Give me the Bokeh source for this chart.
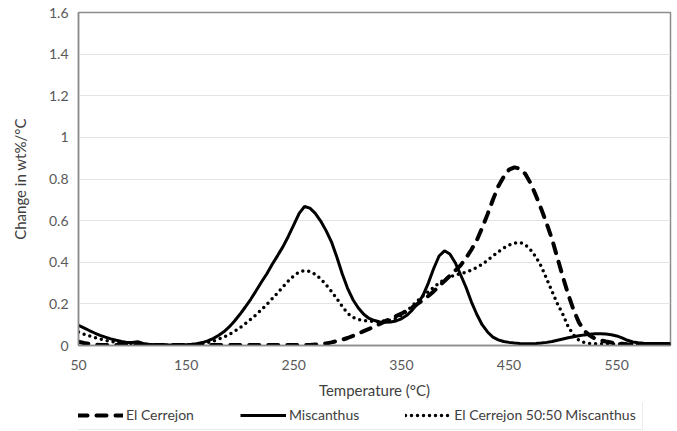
from bokeh.plotting import figure
from bokeh.layouts import column
from bokeh.models import FixedTicker, Legend, LegendItem, Range1d
from bokeh.embed import file_html
from bokeh.resources import INLINE

temperature = list(range(50, 605, 5))

miscanthus = [
    0.097, 0.085, 0.072, 0.060, 0.049, 0.040, 0.032, 0.025, 0.019, 0.015,  # 50-95
    0.014, 0.018, 0.010, 0.006, 0.004, 0.003, 0.002, 0.002, 0.002, 0.003,  # 100-145
    0.004, 0.006, 0.009, 0.014, 0.022, 0.033, 0.048, 0.066, 0.089, 0.118,  # 150-195
    0.150, 0.185, 0.222, 0.263, 0.305, 0.345, 0.390, 0.432, 0.475, 0.525,  # 200-245
    0.580, 0.635, 0.668, 0.660, 0.635, 0.598, 0.552, 0.498, 0.425, 0.345,  # 250-295
    0.275, 0.220, 0.180, 0.150, 0.130, 0.120, 0.113, 0.112, 0.113, 0.118,  # 300-345
    0.128, 0.145, 0.170, 0.200, 0.240, 0.300, 0.370, 0.430, 0.455, 0.440,  # 350-395
    0.398, 0.340, 0.280, 0.210, 0.150, 0.100, 0.065, 0.040, 0.027, 0.019,  # 400-445
    0.015, 0.012, 0.010, 0.009, 0.009, 0.010, 0.012, 0.015, 0.019, 0.025,  # 450-495
    0.031, 0.037, 0.042, 0.047, 0.051, 0.054, 0.056, 0.056, 0.055, 0.052,  # 500-545
    0.046, 0.037, 0.025, 0.017, 0.013, 0.011, 0.010, 0.010, 0.010, 0.010,  # 550-595
    0.010,                                                                  # 600
]

el_cerrejon = [
    0.018, 0.012, 0.008, 0.005, 0.003, 0.003, 0.002, 0.002, 0.002, 0.002,  # 50-95
    0.002, 0.002, 0.002, 0.002, 0.002, 0.002, 0.002, 0.002, 0.002, 0.002,  # 100-145
    0.002, 0.002, 0.002, 0.002, 0.002, 0.002, 0.002, 0.002, 0.002, 0.002,  # 150-195
    0.002, 0.002, 0.002, 0.002, 0.002, 0.002, 0.002, 0.002, 0.002, 0.002,  # 200-245
    0.002, 0.002, 0.002, 0.003, 0.005, 0.007, 0.010, 0.015, 0.021, 0.028,  # 250-295
    0.036, 0.046, 0.057, 0.069, 0.080, 0.092, 0.104, 0.117, 0.129, 0.141,  # 300-345
    0.153, 0.167, 0.183, 0.200, 0.218, 0.238, 0.260, 0.285, 0.310, 0.335,  # 350-395
    0.360, 0.385, 0.420, 0.460, 0.505, 0.565, 0.630, 0.700, 0.765, 0.810,  # 400-445
    0.845, 0.856, 0.850, 0.825, 0.780, 0.720, 0.655, 0.585, 0.510, 0.420,  # 450-495
    0.330, 0.245, 0.170, 0.110, 0.070, 0.048, 0.033, 0.025, 0.019, 0.014,  # 500-545
    0.010, 0.008, 0.006, 0.005, 0.005, 0.005, 0.005, 0.005, 0.005, 0.005,  # 550-595
    0.005,                                                                  # 600
]

blend_50_50 = [
    0.065, 0.055, 0.046, 0.038, 0.031, 0.025, 0.020, 0.015, 0.011, 0.009,  # 50-95
    0.008, 0.007, 0.005, 0.003, 0.003, 0.003, 0.003, 0.003, 0.003, 0.003,  # 100-145
    0.003, 0.004, 0.006, 0.009, 0.014, 0.021, 0.030, 0.040, 0.053, 0.068,  # 150-195
    0.085, 0.105, 0.126, 0.148, 0.172, 0.198, 0.225, 0.253, 0.282, 0.310,  # 200-245
    0.335, 0.353, 0.360, 0.356, 0.342, 0.320, 0.292, 0.260, 0.225, 0.188,  # 250-295
    0.155, 0.135, 0.125, 0.120, 0.117, 0.115, 0.116, 0.118, 0.122, 0.130,  # 300-345
    0.145, 0.165, 0.190, 0.215, 0.238, 0.258, 0.280, 0.300, 0.318, 0.330,  # 350-395
    0.338, 0.345, 0.352, 0.362, 0.375, 0.390, 0.410, 0.430, 0.450, 0.468,  # 400-445
    0.482, 0.492, 0.495, 0.485, 0.460, 0.425, 0.380, 0.320, 0.260, 0.200,  # 450-495
    0.150, 0.090, 0.050, 0.025, 0.014, 0.010, 0.008, 0.008, 0.008, 0.008,  # 500-545
    0.007, 0.007, 0.006, 0.006, 0.006, 0.005, 0.005, 0.005, 0.005, 0.005,  # 550-595
    0.005,                                                                  # 600
]

x_ticks = [50, 150, 250, 350, 450, 550]
y_ticks = [0, 0.2, 0.4, 0.6, 0.8, 1.0, 1.2, 1.4, 1.6]
y_tick_labels = ["0", "0.2", "0.4", "0.6", "0.8", "1", "1.2", "1.4", "1.6"]

series_names = ["El Cerrejon", "Miscanthus", "El Cerrejon 50:50 Miscanthus"]
series_values = [el_cerrejon, miscanthus, blend_50_50]

FONT = "Lato"
TICK_COLOR = "#595959"

STYLES = [
    dict(line_color="black", line_width=4, line_dash="10 9", line_cap="round"),
    dict(line_color="black", line_width=3),
    dict(line_color="black", line_width=3.5, line_dash="0 6", line_cap="round"),
]

p = figure(width=672, height=402, output_backend="svg", toolbar_location=None,
           x_range=Range1d(50, 600), y_range=Range1d(0, 1.6),
           min_border_left=78, min_border_right=2, min_border_top=12, min_border_bottom=57)

p.background_fill_color = "white"
p.border_fill_color = "white"
p.outline_line_color = "#8c8c8c"
p.outline_line_width = 1.5

p.xgrid.grid_line_color = None
p.ygrid.grid_line_color = "#e3e3e3"
p.ygrid.grid_line_width = 1.2
p.ygrid.ticker = FixedTicker(ticks=y_ticks)

p.xaxis.ticker = FixedTicker(ticks=x_ticks)
p.yaxis.ticker = FixedTicker(ticks=y_ticks)
p.yaxis.major_label_overrides = {t: l for t, l in zip(y_ticks, y_tick_labels)}

for ax in (p.xaxis[0], p.yaxis[0]):
    ax.axis_line_color = "#8c8c8c"
    ax.axis_line_width = 1.5
    ax.major_tick_line_color = None
    ax.minor_tick_line_color = None
    ax.major_label_text_font = FONT
    ax.major_label_text_font_size = "14px"
    ax.major_label_text_color = TICK_COLOR
    ax.axis_label_text_font = FONT
    ax.axis_label_text_font_size = "15px"
    ax.axis_label_text_font_style = "normal"
    ax.axis_label_text_color = "#404040"

p.xaxis.major_label_standoff = 8
p.yaxis.major_label_standoff = 4
p.xaxis.axis_label = "Temperature (°C)"
p.yaxis.axis_label = "Change in wt%/°C"
p.xaxis.axis_label_standoff = 8
p.yaxis.axis_label_standoff = 17

for vals, st in zip(series_values, STYLES):
    p.line(temperature, vals, **st)

# legend strip below the chart (same series, drawn outside its visible range)
lg = figure(width=672, height=29, output_backend="svg", toolbar_location=None,
            x_range=Range1d(50, 600), y_range=Range1d(10, 11),
            x_axis_location=None, y_axis_location=None,
            min_border_left=78, min_border_right=2, min_border_top=0, min_border_bottom=0)
lg.grid.visible = False
lg.outline_line_color = None
lg.background_fill_color = "white"
lg.border_fill_color = "white"

samples = [lg.line(temperature, vals, **st) for vals, st in zip(series_values, STYLES)]
legend = Legend(items=[LegendItem(label=n, renderers=[r]) for n, r in zip(series_names, samples)],
                orientation="horizontal", location=(-8, 1))
legend.glyph_width = 46
legend.glyph_height = 14
legend.label_standoff = 3
legend.spacing = 46
legend.padding = 6
legend.margin = 0
legend.label_text_font = FONT
legend.label_text_font_size = "14px"
legend.label_text_color = "#404040"
legend.border_line_color = "#d9d9d9"
legend.border_line_width = 1
legend.background_fill_color = "white"
lg.add_layout(legend, "center")

open("out.html", "w").write(file_html(column(p, lg), INLINE))
